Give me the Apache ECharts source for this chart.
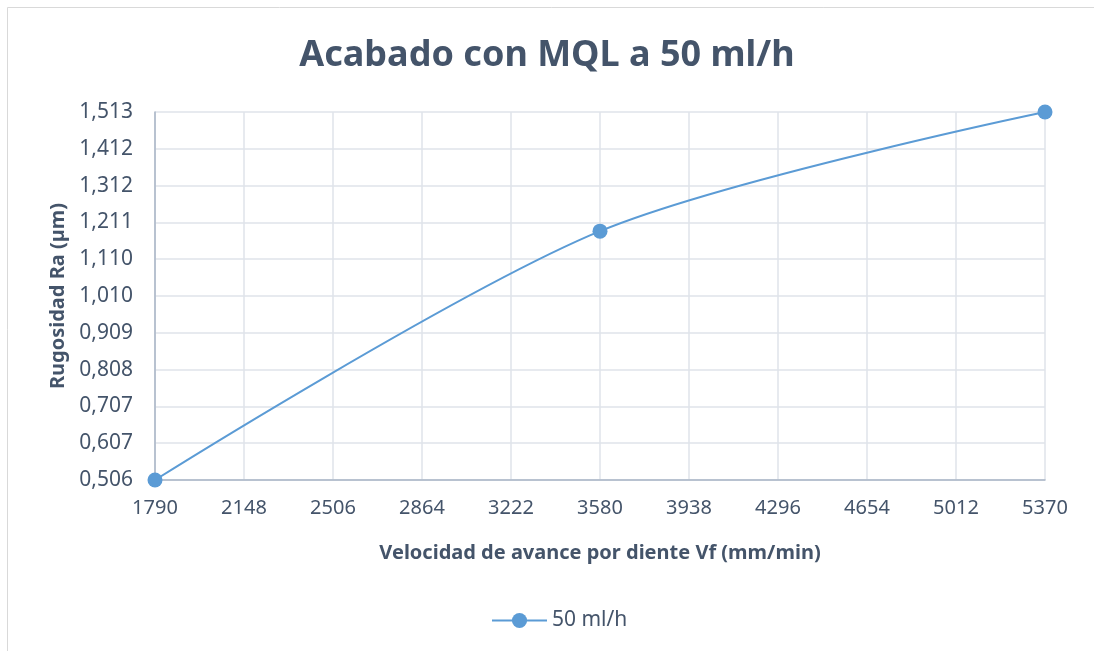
<!DOCTYPE html>
<html>
<head>
<meta charset="utf-8">
<script src="https://cdn.jsdelivr.net/npm/echarts@6/dist/echarts.min.js"></script>
<style>
html,body{margin:0;padding:0;background:#fff;}
#c{width:1094px;height:651px;}
</style>
</head>
<body>
<div id="c"></div>
<script>
const titleText = 'Acabado con MQL a 50 ml/h';
const seriesName = '50 ml/h';
const xValues = [1790, 3580, 5370];
const yValues = [0.506, 1.187, 1.513];
const xTicks = [1790, 2148, 2506, 2864, 3222, 3580, 3938, 4296, 4654, 5012, 5370];
const yTicks = [0.506, 0.6067, 0.7074, 0.8081, 0.9088, 1.0095, 1.1102, 1.2109, 1.3116, 1.4123, 1.513];
const yTickLabels = ['0,506', '0,607', '0,707', '0,808', '0,909', '1,010', '1,110', '1,211', '1,312', '1,412', '1,513'];
const xName = 'Velocidad de avance por diente Vf (mm/min)';
const yName = 'Rugosidad Ra (µm)';

const chart = echarts.init(document.getElementById('c'));
const textColor = '#44546a';
const font = 'Noto Sans';
function yLabel(v) {
  let best = 0, bd = Infinity;
  yTicks.forEach((t, i) => { const d = Math.abs(t - v); if (d < bd) { bd = d; best = i; } });
  return yTickLabels[best];
}
chart.setOption({
  animation: false,
  backgroundColor: '#fff',
  textStyle: { fontFamily: font },
  graphic: [{
    type: 'rect', shape: { x: 7.5, y: 7.5, width: 1200, height: 800 },
    style: { fill: 'none', stroke: '#d9d9d9', lineWidth: 1 }, silent: true, z: -1
  }],
  title: {
    text: titleText, left: 'center', top: 33,
    textStyle: { fontFamily: font, fontSize: 36, fontWeight: 'bold', color: textColor }
  },
  legend: {
    data: [seriesName], bottom: 15, left: 486,
    itemWidth: 55, itemHeight: 19, itemGap: 4,
    textStyle: { fontFamily: font, fontSize: 21, color: textColor }
  },
  grid: { left: 155, right: 49, top: 112, bottom: 171, containLabel: false },
  xAxis: {
    type: 'value', min: 1790, max: 5370, interval: 358,
    name: xName, nameLocation: 'middle', nameGap: 63,
    nameTextStyle: { fontFamily: font, fontSize: 20, fontWeight: 'bold', color: textColor },
    axisLine: { show: true, lineStyle: { color: '#a9b5c6', width: 1.5 } },
    axisTick: { show: false },
    axisLabel: { formatter: v => String(v), fontSize: 20, color: textColor, margin: 18, fontFamily: font },
    splitLine: { show: true, lineStyle: { color: '#dfe3ea', width: 1.5 } }
  },
  yAxis: {
    type: 'value', min: 0.506, max: 1.513,
    name: yName, nameLocation: 'middle', nameGap: 86, nameRotate: 90,
    nameTextStyle: { fontFamily: font, fontSize: 20, fontWeight: 'bold', color: textColor },
    axisLine: { show: true, lineStyle: { color: '#a9b5c6', width: 1.5 } },
    axisTick: { show: false, customValues: yTicks },
    axisLabel: { customValues: yTicks, formatter: yLabel, fontSize: 21, color: textColor, margin: 22, fontFamily: font },
    splitLine: { show: true, lineStyle: { color: '#dfe3ea', width: 1.5 } }
  },
  series: [{
    name: seriesName, type: 'line', smooth: 0.3,
    data: xValues.map((x, i) => [x, yValues[i]]),
    symbol: 'circle', symbolSize: 15,
    lineStyle: { color: '#5b9bd5', width: 2 },
    itemStyle: { color: '#5b9bd5' },
    clip: false
  }]
});
</script>
</body>
</html>
